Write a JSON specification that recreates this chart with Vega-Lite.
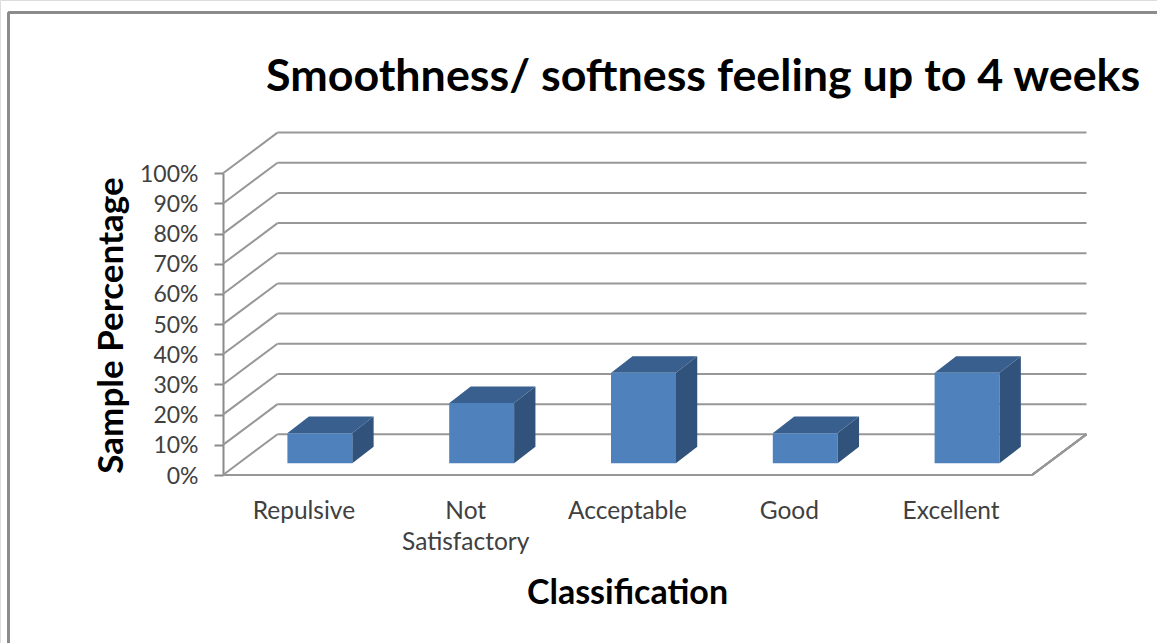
{
"$schema":"https://vega.github.io/schema/vega-lite/v6.json",
"width":1157,"height":643,"padding":0,"autosize":{"type":"none"},"background":"white",
"title":{"text":"Smoothness/ softness feeling up to 4 weeks","anchor":"start","frame":"group","dx":266,"offset":-136,"baseline":"alphabetic","font":"Lato","fontWeight":"bold","fontSize":44.8,"color":"#000000"},
"datasets":{
"bars":[{"category":"Repulsive","value":10},{"category":"Not Satisfactory","value":20},{"category":"Acceptable","value":30},{"category":"Good","value":10},{"category":"Excellent","value":30}],
"grid":[{"pct":0},{"pct":10},{"pct":20},{"pct":30},{"pct":40},{"pct":50},{"pct":60},{"pct":70},{"pct":80},{"pct":90},{"pct":100}],
"side":[
{"category":"Repulsive","pos":0.799,"low":3.88,"high":13.88},{"category":"Repulsive","pos":0.931,"low":9.35,"high":19.35},
{"category":"Not Satisfactory","pos":1.799,"low":3.88,"high":23.88},{"category":"Not Satisfactory","pos":1.931,"low":9.35,"high":29.35},
{"category":"Acceptable","pos":2.799,"low":3.88,"high":33.88},{"category":"Acceptable","pos":2.931,"low":9.35,"high":39.35},
{"category":"Good","pos":3.799,"low":3.88,"high":13.88},{"category":"Good","pos":3.931,"low":9.35,"high":19.35},
{"category":"Excellent","pos":4.799,"low":3.88,"high":33.88},{"category":"Excellent","pos":4.931,"low":9.35,"high":39.35}],
"top":[
{"category":"Repulsive","level":13.88,"from":0.399,"to":0.799},{"category":"Repulsive","level":19.35,"from":0.531,"to":0.931},
{"category":"Not Satisfactory","level":23.88,"from":1.399,"to":1.799},{"category":"Not Satisfactory","level":29.35,"from":1.531,"to":1.931},
{"category":"Acceptable","level":33.88,"from":2.399,"to":2.799},{"category":"Acceptable","level":39.35,"from":2.531,"to":2.931},
{"category":"Good","level":13.88,"from":3.399,"to":3.799},{"category":"Good","level":19.35,"from":3.531,"to":3.931},
{"category":"Excellent","level":33.88,"from":4.399,"to":4.799},{"category":"Excellent","level":39.35,"from":4.531,"to":4.931}]
},
"data":{"name":"bars"},
"resolve":{"scale":{"x":"independent"}},
"layer":[
{"layer":[
{"mark":{"type":"rule","color":"#8a8a8a","strokeWidth":2},"encoding":{"x":{"datum":-1.326,"type":"quantitative","scale":{"domain":[0,5],"range":[223,1032],"nice":false,"zero":false},"axis":null},"y":{"datum":153.3,"type":"quantitative"},"x2":{"datum":5.8}}},
{"mark":{"type":"rule","color":"#8a8a8a","strokeWidth":2},"encoding":{"x":{"datum":-1.326,"type":"quantitative"},"y":{"datum":153.3,"type":"quantitative"},"y2":{"datum":-56}}},
{"data":{"name":"grid"},"mark":{"type":"rule","color":"#979797","strokeWidth":2,"xOffset":54.5,"x2Offset":54.5,"yOffset":-40.7},"encoding":{"x":{"datum":0,"type":"quantitative"},"x2":{"datum":5},"y":{"field":"pct","type":"quantitative","scale":{"domain":[0,100],"range":[475,173.3],"nice":false,"zero":false},"axis":{"orient":"left","offset":-223,"title":"Sample Percentage","titleFont":"Lato","titleFontWeight":"bold","titleFontSize":35,"titleColor":"#000000","titleX":-112,"titleY":325,"titleAngle":-90,"titleBaseline":"middle","titleAnchor":"middle","values":[0,10,20,30,40,50,60,70,80,90,100],"labelExpr":"datum.value+'%'","labelFont":"Lato","labelFontSize":23,"labelColor":"#404040","labelPadding":16,"labelOffset":1,"labelOverlap":false,"tickSize":9,"tickColor":"#8a8a8a","tickWidth":2,"domainColor":"#8a8a8a","domainWidth":2,"grid":false}}}},
{"data":{"name":"grid"},"mark":{"type":"rule","color":"#979797","strokeWidth":2,"x2Offset":54.5,"y2Offset":-40.7},"encoding":{"x":{"datum":0,"type":"quantitative"},"x2":{"datum":0},"y":{"field":"pct","type":"quantitative"},"y2":{"field":"pct"}}},
{"mark":{"type":"rule","color":"#979797","strokeWidth":2},"encoding":{"x":{"datum":0,"type":"quantitative"},"x2":{"datum":5},"y":{"datum":0,"type":"quantitative"}}},
{"mark":{"type":"rule","color":"#979797","strokeWidth":2,"x2Offset":54.5,"y2Offset":-40.7},"encoding":{"x":{"datum":5,"type":"quantitative"},"x2":{"datum":5},"y":{"datum":0,"type":"quantitative"},"y2":{"datum":0}}},
{"data":{"name":"side"},"mark":{"type":"area","color":"#31527a"},"encoding":{"x":{"field":"pos","type":"quantitative"},"y":{"field":"low","type":"quantitative"},"y2":{"field":"high"},"detail":{"field":"category"}}},
{"data":{"name":"top"},"mark":{"type":"area","color":"#385f8e","orient":"horizontal"},"encoding":{"y":{"field":"level","type":"quantitative"},"x":{"field":"from","type":"quantitative"},"x2":{"field":"to"},"detail":{"field":"category"}}}
]},
{"mark":{"type":"bar","color":"#4f81bd","width":65,"xOffset":16,"yOffset":-11.7,"y2Offset":-11.7},"encoding":{"x":{"field":"category","type":"nominal","sort":null,"scale":{"domain":["Repulsive","Not Satisfactory","Acceptable","Good","Excellent"],"range":[223,1032],"paddingInner":0,"paddingOuter":0},"axis":{"orient":"bottom","offset":-168,"labelAngle":0,"labelExpr":"datum.label=='Not Satisfactory'?['Not','Satisfactory']:datum.label","labelFont":"Lato","labelFontSize":24.5,"labelColor":"#404040","labelPadding":24,"labelLineHeight":31,"labelBaseline":"top","labelOverlap":false,"labelLimit":0,"ticks":false,"domain":false,"grid":false,"title":"Classification","titleFont":"Lato","titleFontWeight":"bold","titleFontSize":34,"titleColor":"#000000","titleX":627,"titleY":128,"titleAnchor":"middle","titleBaseline":"alphabetic"}},"y":{"field":"value","type":"quantitative"},"y2":{"datum":0}}}
]
}
